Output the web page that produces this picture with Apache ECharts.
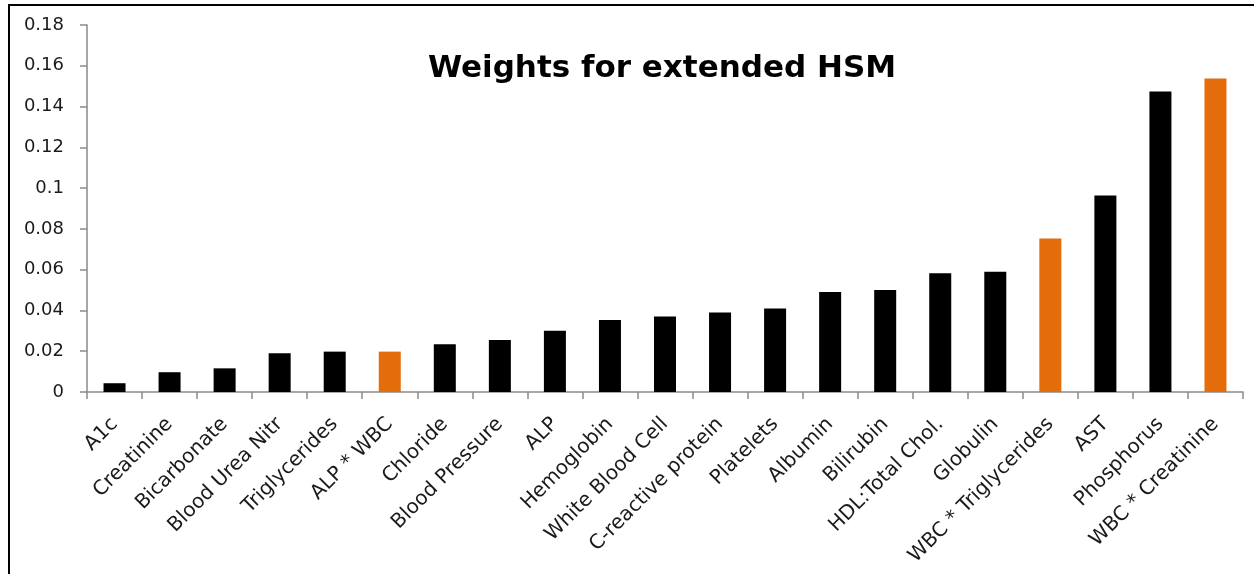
<!DOCTYPE html>
<html>
<head>
<meta charset="utf-8">
<script src="https://cdn.jsdelivr.net/npm/echarts@6/dist/echarts.min.js"></script>
<style>
  html, body { margin: 0; padding: 0; background: #fff; }
  #chart { width: 1254px; height: 574px; }
</style>
</head>
<body>
<div id="chart"></div>
<script>
// Feature names, ordered by weight
const categories = [
  'A1c', 'Creatinine', 'Bicarbonate', 'Blood Urea Nitr', 'Triglycerides',
  'ALP * WBC', 'Chloride', 'Blood Pressure', 'ALP', 'Hemoglobin',
  'White Blood Cell', 'C-reactive protein', 'Platelets', 'Albumin', 'Bilirubin',
  'HDL:Total Chol.', 'Globulin', 'WBC * Triglycerides', 'AST', 'Phosphorus',
  'WBC * Creatinine'
];

// Weight of each feature in the extended HSM
const weights = [
  0.0043, 0.0097, 0.0116, 0.0190, 0.0198,
  0.0198, 0.0234, 0.0255, 0.0300, 0.0353,
  0.0370, 0.0390, 0.0410, 0.0490, 0.0500,
  0.0582, 0.0590, 0.0753, 0.0964, 0.1474,
  0.1538
];

// Interaction terms are highlighted
const interactionTerms = ['ALP * WBC', 'WBC * Triglycerides', 'WBC * Creatinine'];

const yTicks = ['0', '0.02', '0.04', '0.06', '0.08', '0.1', '0.12', '0.14', '0.16', '0.18'];

const BASE_COLOR = '#000000';
const HIGHLIGHT_COLOR = '#E46C0A';
const AXIS_COLOR = '#8a8a8a';
const FONT = '"DejaVu Sans", sans-serif';

const chart = echarts.init(document.getElementById('chart'));

chart.setOption({
  animation: false,
  backgroundColor: '#ffffff',
  title: {
    text: 'Weights for extended HSM',
    left: 657,
    top: 48,
    textAlign: 'center',
    textStyle: { fontFamily: FONT, fontWeight: 'bold', fontSize: 31, color: '#000' }
  },
  grid: { left: 87, right: 11, top: 25, bottom: 182, containLabel: false },
  xAxis: {
    type: 'category',
    data: categories,
    boundaryGap: true,
    axisLine: { show: true, lineStyle: { color: AXIS_COLOR, width: 1.5 } },
    axisTick: { show: true, alignWithLabel: false, length: 7, lineStyle: { color: AXIS_COLOR, width: 1.5 } },
    axisLabel: {
      interval: 0,
      rotate: 45,
      margin: 29,
      fontFamily: FONT,
      fontSize: 20,
      color: '#1a1a1a'
    }
  },
  yAxis: {
    type: 'value',
    min: 0,
    max: 0.18,
    interval: 0.02,
    splitLine: { show: false },
    axisLine: { show: true, lineStyle: { color: AXIS_COLOR, width: 1.5 } },
    axisTick: { show: true, inside: false, length: 7, lineStyle: { color: AXIS_COLOR, width: 1.5 } },
    axisLabel: {
      margin: 23,
      fontFamily: FONT,
      fontSize: 18,
      color: '#1a1a1a',
      formatter: (v, i) => yTicks[i]
    }
  },
  series: [{
    type: 'bar',
    barWidth: 22,
    data: weights.map((w, i) => ({
      value: w,
      itemStyle: {
        color: interactionTerms.includes(categories[i]) ? HIGHLIGHT_COLOR : BASE_COLOR
      }
    }))
  }],
  graphic: [
    // frame along the top and left edges
    {
      type: 'polyline',
      silent: true,
      shape: { points: [[9, 574], [9, 5], [1254, 5]] },
      style: { stroke: '#000', lineWidth: 2, fill: null }
    }
  ]
});
</script>
</body>
</html>
